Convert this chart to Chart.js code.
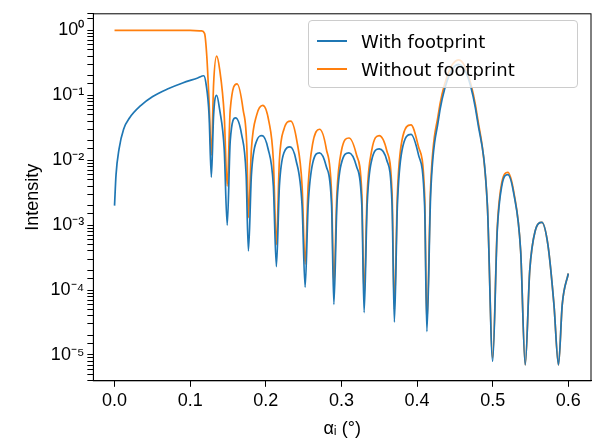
<!DOCTYPE html>
<html>
<head>
<meta charset="utf-8">
<script src="https://cdn.jsdelivr.net/npm/chart.js@4/dist/chart.umd.min.js"></script>
<style>
  body { margin: 0; background: #fff; font-family: "DejaVu Sans", sans-serif; }
  #wrap { position: relative; width: 598px; height: 444px; }
  #legend { position: absolute; left: 308px; top: 20px; width: 270px; height: 68px; border: 1px solid #ccc;
            border-radius: 4px; background: rgba(255,255,255,0.8); font-size: 18px; box-sizing: border-box; padding: 6px 8px; }
  #legend div { display: flex; align-items: center; height: 28px; }
  #legend span.l { display: inline-block; width: 30px; height: 2px; margin-right: 14px; }
</style>
</head>
<body>
<div id="wrap">
  <canvas id="c" width="598" height="444"></canvas>
  <div id="legend">
    <div><span class="l" style="background:#1f77b4"></span>With footprint</div>
    <div><span class="l" style="background:#ff7f0e"></span>Without footprint</div>
  </div>
</div>
<script>
// With footprint
const withX = [0, 0.002, 0.006, 0.012, 0.02, 0.035, 0.05, 0.07, 0.09, 0.11, 0.118, 0.121, 0.125, 0.128, 0.131, 0.135, 0.139, 0.145, 0.149, 0.153, 0.16, 0.168, 0.174, 0.177, 0.181, 0.188, 0.195, 0.203, 0.21, 0.214, 0.218, 0.224, 0.232, 0.24, 0.248, 0.252, 0.256, 0.262, 0.271, 0.28, 0.287, 0.29, 0.294, 0.3, 0.31, 0.32, 0.327, 0.33, 0.334, 0.34, 0.35, 0.36, 0.367, 0.37, 0.374, 0.38, 0.392, 0.402, 0.41, 0.413, 0.418, 0.428, 0.44, 0.455, 0.468, 0.48, 0.493, 0.5, 0.506, 0.512, 0.52, 0.528, 0.537, 0.543, 0.549, 0.556, 0.565, 0.573, 0.581, 0.587, 0.592, 0.6];
const withY = [0.002, 0.006, 0.015, 0.03, 0.045, 0.07, 0.095, 0.125, 0.155, 0.185, 0.2, 0.15, 0.05, 0.0055, 0.05, 0.1, 0.06, 0.015, 0.001, 0.02, 0.045, 0.025, 0.006, 0.0004, 0.006, 0.02, 0.024, 0.015, 0.004, 0.00023, 0.004, 0.013, 0.016, 0.01, 0.002, 0.00011, 0.002, 0.009, 0.013, 0.008, 0.002, 0.00006, 0.002, 0.009, 0.013, 0.008, 0.002, 0.000045, 0.002, 0.01, 0.015, 0.01, 0.002, 0.000032, 0.002, 0.014, 0.025, 0.012, 0.002, 0.000023, 0.003, 0.04, 0.17, 0.3, 0.18, 0.04, 0.002, 0.000008, 0.0008, 0.004, 0.006, 0.003, 0.0004, 0.000007, 0.0002, 0.0008, 0.0011, 0.0005, 0.00006, 0.000007, 0.00006, 0.00018];
// Without footprint
const withoutX = [0, 0.05, 0.1, 0.115, 0.119, 0.122, 0.125, 0.128, 0.131, 0.135, 0.139, 0.145, 0.149, 0.153, 0.162, 0.17, 0.175, 0.177, 0.181, 0.188, 0.196, 0.204, 0.21, 0.214, 0.218, 0.224, 0.233, 0.241, 0.248, 0.252, 0.256, 0.262, 0.271, 0.28, 0.287, 0.29, 0.294, 0.3, 0.31, 0.32, 0.327, 0.33, 0.334, 0.34, 0.35, 0.36, 0.367, 0.37, 0.374, 0.38, 0.392, 0.402, 0.41, 0.413, 0.418, 0.428, 0.44, 0.455, 0.468, 0.48, 0.493, 0.5, 0.506, 0.512, 0.52, 0.528, 0.537, 0.543, 0.549, 0.556, 0.565, 0.573, 0.581, 0.587, 0.592, 0.6];
const withoutY = [1, 1, 1, 0.98, 0.9, 0.4, 0.08, 0.012, 0.15, 0.4, 0.25, 0.05, 0.004, 0.06, 0.15, 0.06, 0.015, 0.0013, 0.015, 0.05, 0.07, 0.04, 0.01, 0.0005, 0.01, 0.03, 0.04, 0.02, 0.004, 0.00025, 0.004, 0.018, 0.03, 0.015, 0.003, 0.00012, 0.003, 0.014, 0.022, 0.012, 0.003, 0.00008, 0.003, 0.014, 0.024, 0.014, 0.003, 0.00005, 0.003, 0.02, 0.035, 0.016, 0.003, 0.00003, 0.004, 0.05, 0.2, 0.35, 0.2, 0.045, 0.002, 0.000009, 0.0009, 0.0045, 0.0065, 0.0032, 0.0004, 0.000007, 0.0002, 0.0008, 0.0011, 0.0005, 0.00006, 0.000007, 0.00006, 0.00018];
const xTicks = [0, 0.1, 0.2, 0.3, 0.4, 0.5, 0.6];

const sup = { '-': '⁻', '0': '⁰', '1': '¹', '2': '²', '3': '³', '4': '⁴', '5': '⁵', '6': '⁶' };
function toPoints(xs, ys) { return xs.map((x, i) => ({ x: x, y: ys[i] })); }

// frame around the plot area
const frame = {
    id: 'frame',
    afterDraw(chart) {
        const a = chart.chartArea, c = chart.ctx;
        c.save();
        c.strokeStyle = '#000';
        c.lineWidth = 1;
        c.strokeRect(a.left, a.top, a.right - a.left, a.bottom - a.top);
        c.restore();
    }
};

new Chart(document.getElementById('c'), {
    type: 'line',
    data: {
        datasets: [
            { label: 'With footprint', data: toPoints(withX, withY), borderColor: '#1f77b4', borderWidth: 1.7, pointRadius: 0, cubicInterpolationMode: 'monotone' },
            { label: 'Without footprint', data: toPoints(withoutX, withoutY), borderColor: '#ff7f0e', borderWidth: 1.7, pointRadius: 0, cubicInterpolationMode: 'monotone' }
        ]
    },
    options: {
        responsive: false,
        animation: false,
        layout: { padding: { top: 8, right: 7, left: 18, bottom: 0 } },
        plugins: { legend: { display: false }, tooltip: { enabled: false } },
        scales: {
            x: {
                type: 'linear', min: -0.028, max: 0.63,
                afterBuildTicks: s => { s.ticks = xTicks.map(v => ({ value: v })); },
                ticks: { color: '#000', font: { size: 18 }, callback: v => v.toFixed(1) },
                grid: { drawOnChartArea: false, color: '#000', tickLength: 6 },
                border: { color: '#000' },
                title: { display: true, text: 'αᵢ (°)', color: '#000', font: { size: 18 } }
            },
            y: {
                type: 'logarithmic', min: 4e-6, max: 1.8,
                ticks: {
                    color: '#000', font: { size: 18 }, autoSkip: false,
                    callback: v => {
                        const e = Math.round(Math.log10(v));
                        if (Math.abs(Math.log10(v) - e) > 1e-6) return '';
                        return '10' + String(e).split('').map(c => sup[c]).join('');
                    }
                },
                grid: { drawOnChartArea: false, color: '#000', tickLength: 6 },
                border: { color: '#000' },
                title: { display: true, text: 'Intensity', color: '#000', font: { size: 18 } }
            }
        }
    },
    plugins: [frame]
});
</script>
</body>
</html>
